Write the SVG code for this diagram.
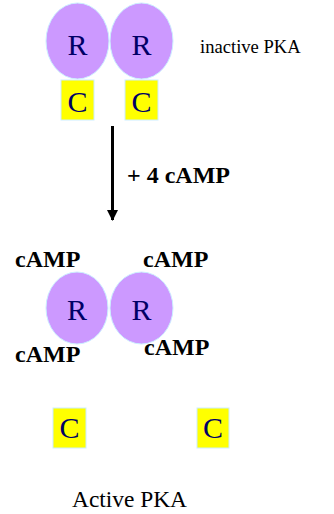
<svg xmlns="http://www.w3.org/2000/svg" width="334" height="514" viewBox="0 0 334 514">
<defs>
<style>
.r{fill:#cc99ff;stroke:#cceeff;stroke-width:1}
.c{fill:#ffff00;stroke:#cceeff;stroke-width:1}
.lt{font-family:"Liberation Serif",serif;font-size:30px;fill:#000066;text-anchor:middle}
.b{font-family:"Liberation Serif",serif;font-size:24px;font-weight:bold;fill:#000}
.n{font-family:"Liberation Serif",serif;fill:#000}
</style>
<marker id="ah" markerWidth="11" markerHeight="11" refX="10" refY="5.5" orient="auto" markerUnits="userSpaceOnUse" viewBox="0 0 11 11">
<path d="M0,0 L11,5.5 L0,11 Z" fill="#000"/>
</marker>
</defs>
<g id="inactive">
<g id="R1"><ellipse class="r" cx="77.5" cy="41" rx="31.5" ry="38"/><text class="lt" x="77.5" y="55">R</text></g>
<g id="R2"><ellipse class="r" cx="141.5" cy="41" rx="31.5" ry="38"/><text class="lt" x="141.5" y="55">R</text></g>
<g id="C1"><rect class="c" x="61" y="80" width="33" height="40"/><text class="lt" x="77.5" y="112">C</text></g>
<g id="C2"><rect class="c" x="125" y="80" width="33" height="40"/><text class="lt" x="141.5" y="112">C</text></g>
<text class="n" x="200" y="53" font-size="18.6">inactive PKA</text>
</g>
<g id="connectors">
<line x1="112.5" y1="126" x2="112.5" y2="220" stroke="#000" stroke-width="3" marker-end="url(#ah)"/>
<text class="b" x="127" y="183">+ 4 cAMP</text>
</g>
<g id="active">
<g id="R3"><ellipse class="r" cx="77" cy="308" rx="31" ry="36"/><text class="lt" x="77" y="320">R</text></g>
<g id="R4"><ellipse class="r" cx="141.5" cy="308" rx="31.5" ry="36"/><text class="lt" x="141.5" y="320">R</text></g>
<text class="b" x="15" y="267">cAMP</text>
<text class="b" x="143" y="267">cAMP</text>
<text class="b" x="15" y="362">cAMP</text>
<text class="b" x="144" y="355">cAMP</text>
<g id="C3"><rect class="c" x="53" y="408" width="33" height="40"/><text class="lt" x="69.5" y="438">C</text></g>
<g id="C4"><rect class="c" x="197" y="408" width="32" height="40"/><text class="lt" x="213" y="438">C</text></g>
<text class="n" x="72" y="507" font-size="23.4">Active PKA</text>
</g>
</svg>
